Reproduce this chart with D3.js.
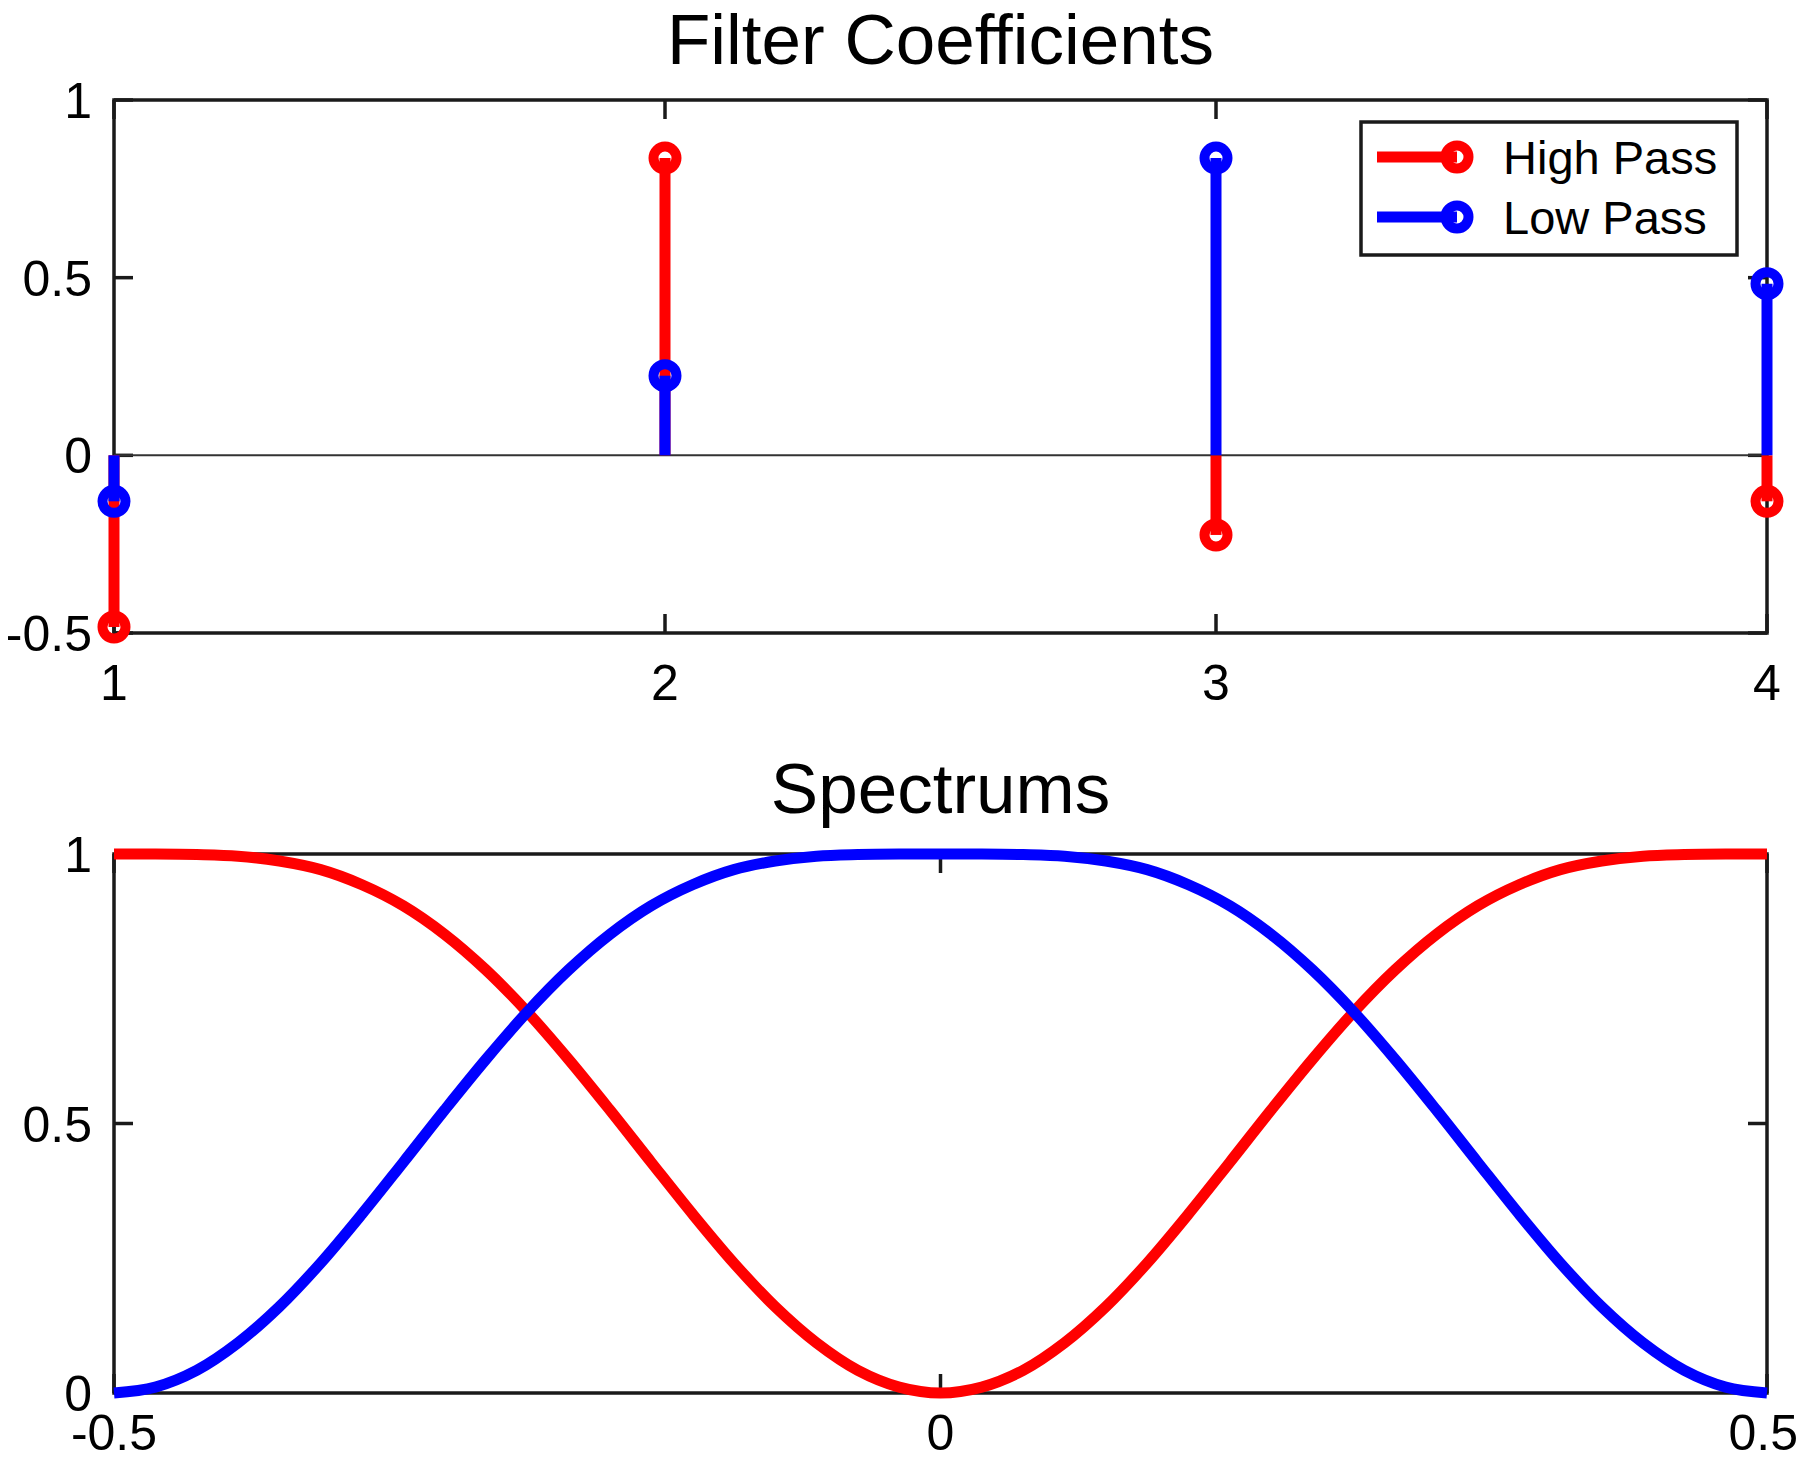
<!DOCTYPE html>
<html>
<head>
<meta charset="utf-8">
<script src="https://cdn.jsdelivr.net/npm/d3@7"></script>
<style>
  html, body { margin: 0; padding: 0; background: #fff; }
  svg { display: block; }
  text { font-family: "Liberation Sans", Arial, Helvetica, sans-serif; fill: #000; }
</style>
</head>
<body>
<svg id="chart" width="1800" height="1462"></svg>
<script>
// ---------------- DATA ----------------
const coefIndex = [1, 2, 3, 4];
const highPassCoef = [-0.483, 0.8365, -0.2241, -0.1294];
const lowPassCoef = [-0.1294, 0.2241, 0.8365, 0.483];

const freq = [-0.5, -0.475, -0.45, -0.425, -0.4, -0.375, -0.35, -0.325, -0.3, -0.275,
              -0.25, -0.225, -0.2, -0.175, -0.15, -0.125, -0.1, -0.075, -0.05, -0.025,
              0, 0.025, 0.05, 0.075, 0.1, 0.125, 0.15, 0.175, 0.2, 0.225,
              0.25, 0.275, 0.3, 0.325, 0.35, 0.375, 0.4, 0.425, 0.45, 0.475, 0.5];
const lowPassSpec = [0, 0.011, 0.042, 0.093, 0.160, 0.241, 0.332, 0.428, 0.525, 0.619,
                     0.707, 0.785, 0.851, 0.904, 0.943, 0.971, 0.987, 0.996, 0.999, 1.000,
                     1, 1.000, 0.999, 0.996, 0.987, 0.971, 0.943, 0.904, 0.851, 0.785,
                     0.707, 0.619, 0.525, 0.428, 0.332, 0.241, 0.160, 0.093, 0.042, 0.011, 0];
const highPassSpec = [1, 1.000, 0.999, 0.996, 0.987, 0.971, 0.943, 0.904, 0.851, 0.785,
                      0.707, 0.619, 0.525, 0.428, 0.332, 0.241, 0.160, 0.093, 0.042, 0.011,
                      0, 0.011, 0.042, 0.093, 0.160, 0.241, 0.332, 0.428, 0.525, 0.619,
                      0.707, 0.785, 0.851, 0.904, 0.943, 0.971, 0.987, 0.996, 0.999, 1.000, 1];

const topXTicks = [1, 2, 3, 4];
const topYTicks = [-0.5, 0, 0.5, 1];
const topYTickLabels = ["-0.5", "0", "0.5", "1"];
const botXTicks = [-0.5, 0, 0.5];
const botXTickLabels = ["-0.5", "0", "0.5"];
const botYTicks = [0, 0.5, 1];
const botYTickLabels = ["0", "0.5", "1"];
const seriesNames = ["High Pass", "Low Pass"];
const seriesColors = ["#ff0000", "#0000ff"];
const titles = ["Filter Coefficients", "Spectrums"];

// ---------------- LAYOUT ----------------
const W = 1800;
const svg = d3.select("#chart");
const L = 114, R = 1767;
const top1 = { t: 100, b: 633 };
const bot1 = { t: 854, b: 1393 };
const tickLen = 19;
const tickFont = 50;
const titleFont = 71;
const lineW = 11;
const markerR = 11.5, markerW = 10;
const axisCol = "#1a1a1a", axisW = 3.5;

function drawBox(g, x, y, xTicks, yTicks, xLabels, yLabels, labelBaselineY) {
  const [x0, x1] = x.range();
  const [y0, y1] = y.range(); // y0 = bottom, y1 = top
  xTicks.forEach(v => {
    g.append("line").attr("x1", x(v)).attr("x2", x(v)).attr("y1", y0).attr("y2", y0 - tickLen)
      .attr("stroke", axisCol).attr("stroke-width", axisW);
    g.append("line").attr("x1", x(v)).attr("x2", x(v)).attr("y1", y1).attr("y2", y1 + tickLen)
      .attr("stroke", axisCol).attr("stroke-width", axisW);
  });
  yTicks.forEach(v => {
    g.append("line").attr("x1", x0).attr("x2", x0 + tickLen).attr("y1", y(v)).attr("y2", y(v))
      .attr("stroke", axisCol).attr("stroke-width", axisW);
    g.append("line").attr("x1", x1).attr("x2", x1 - tickLen).attr("y1", y(v)).attr("y2", y(v))
      .attr("stroke", axisCol).attr("stroke-width", axisW);
  });
  g.append("rect").attr("x", x0).attr("y", y1).attr("width", x1 - x0).attr("height", y0 - y1)
    .attr("fill", "none").attr("stroke", axisCol).attr("stroke-width", axisW);
  xTicks.forEach((v, i) => {
    const t = g.append("text").attr("x", x(v)).attr("y", labelBaselineY).attr("text-anchor", "middle")
      .attr("font-size", tickFont).text(xLabels[i]);
    // keep the label inside the page
    const bb = t.node().getBBox();
    if (bb.x + bb.width > W - 2) t.attr("x", x(v) - (bb.x + bb.width - (W - 2)));
  });
  yTicks.forEach((v, i) => {
    g.append("text").attr("x", 92).attr("y", y(v) + 18).attr("text-anchor", "end")
      .attr("font-size", tickFont).text(yLabels[i]);
  });
}

// ---------------- TOP PLOT ----------------
const xTop = d3.scaleLinear().domain([1, 4]).range([L, R]);
const yTop = d3.scaleLinear().domain([-0.5, 1]).range([top1.b, top1.t]);
const gTop = svg.append("g");

gTop.append("text").attr("x", (L + R) / 2).attr("y", 64).attr("text-anchor", "middle")
  .attr("font-size", titleFont).text(titles[0]);

drawBox(gTop, xTop, yTop, topXTicks, topYTicks, topXTicks.map(String), topYTickLabels, 700);

gTop.append("line").attr("x1", L).attr("x2", R).attr("y1", yTop(0)).attr("y2", yTop(0))
  .attr("stroke", "#333").attr("stroke-width", 2);

[highPassCoef, lowPassCoef].forEach((vals, si) => {
  const col = seriesColors[si];
  const data = coefIndex.map((k, i) => ({ k, v: vals[i] }));
  gTop.selectAll(null).data(data).enter().append("line")
    .attr("x1", d => xTop(d.k)).attr("x2", d => xTop(d.k))
    .attr("y1", yTop(0)).attr("y2", d => yTop(d.v))
    .attr("stroke", col).attr("stroke-width", lineW);
  gTop.selectAll(null).data(data).enter().append("circle")
    .attr("cx", d => xTop(d.k)).attr("cy", d => yTop(d.v)).attr("r", markerR)
    .attr("fill", "none").attr("stroke", col).attr("stroke-width", markerW);
});

// legend
const lg = svg.append("g");
lg.append("rect").attr("x", 1361).attr("y", 122).attr("width", 376).attr("height", 133)
  .attr("fill", "#fff").attr("stroke", axisCol).attr("stroke-width", axisW);
seriesNames.forEach((name, i) => {
  const yy = 157 + i * 60;
  lg.append("line").attr("x1", 1377).attr("x2", 1457).attr("y1", yy).attr("y2", yy)
    .attr("stroke", seriesColors[i]).attr("stroke-width", lineW);
  lg.append("circle").attr("cx", 1457).attr("cy", yy).attr("r", markerR)
    .attr("fill", "none").attr("stroke", seriesColors[i]).attr("stroke-width", markerW);
  lg.append("text").attr("x", 1503).attr("y", yy + 17).attr("font-size", 47).text(name);
});

// ---------------- BOTTOM PLOT ----------------
const xBot = d3.scaleLinear().domain([-0.5, 0.5]).range([L, R]);
const yBot = d3.scaleLinear().domain([0, 1]).range([bot1.b, bot1.t]);
const gBot = svg.append("g");

gBot.append("text").attr("x", (L + R) / 2).attr("y", 813).attr("text-anchor", "middle")
  .attr("font-size", titleFont).text(titles[1]);

drawBox(gBot, xBot, yBot, botXTicks, botYTicks, botXTickLabels, botYTickLabels, 1450);

const line = d3.line().x(d => xBot(d[0])).y(d => yBot(d[1])).curve(d3.curveCatmullRom.alpha(0.5));
[highPassSpec, lowPassSpec].forEach((vals, si) => {
  gBot.append("path").datum(freq.map((f, i) => [f, vals[i]]))
    .attr("d", line).attr("fill", "none")
    .attr("stroke", seriesColors[si]).attr("stroke-width", lineW)
    .attr("stroke-linejoin", "round");
});
</script>
</body>
</html>
